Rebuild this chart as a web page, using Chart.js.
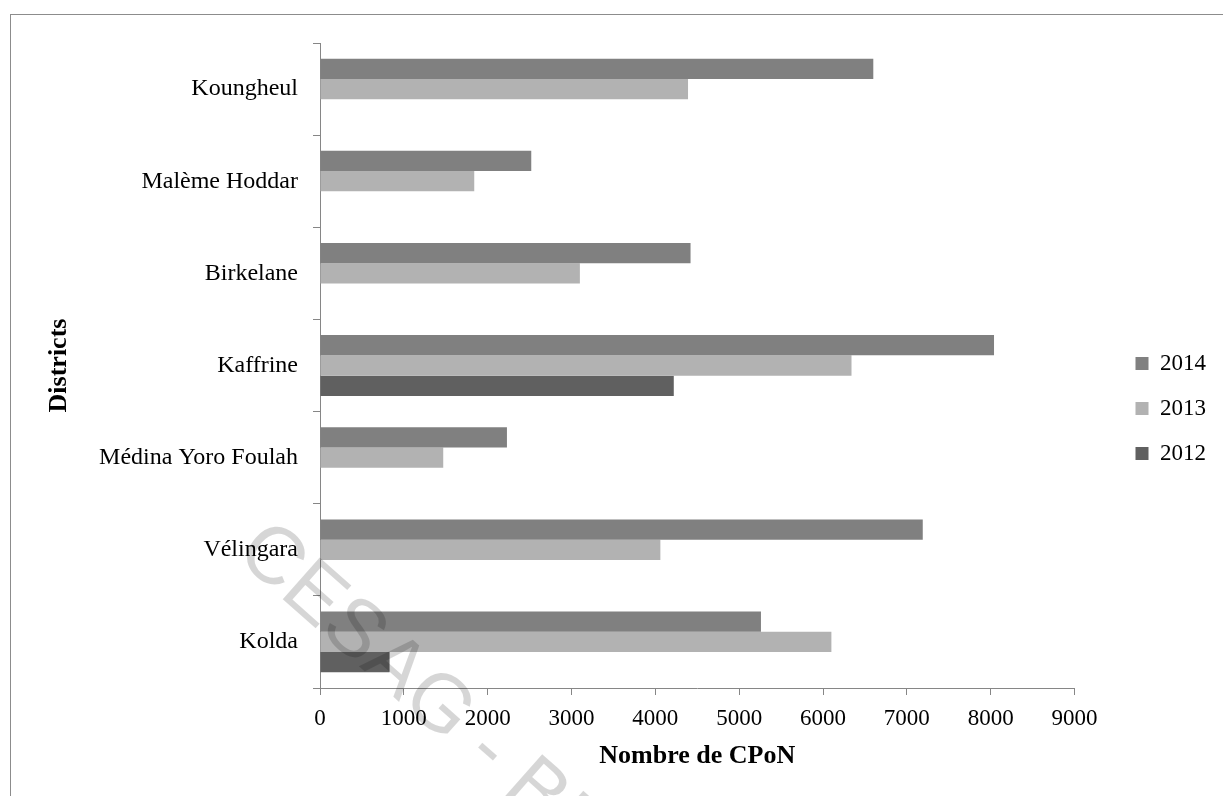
<!DOCTYPE html>
<html lang="fr">
<head>
<meta charset="utf-8">
<title>Nombre de CPoN par district</title>
<script src="https://cdn.jsdelivr.net/npm/chart.js@4.4.1/dist/chart.umd.min.js"></script>
<style>
  html, body { margin: 0; padding: 0; background: #fff; overflow: hidden; }
  #frame {
    position: absolute; left: 10px; top: 14px; width: 1300px; height: 900px;
    border: 1px solid #8c8c8c; box-sizing: border-box;
  }
  #chart { position: absolute; left: 0; top: 0; }
</style>
</head>
<body>
<div id="frame"></div>
<canvas id="chart" width="1223" height="796"></canvas>
<script>
// Districts, top to bottom
const districts = ['Koungheul', 'Malème Hoddar', 'Birkelane', 'Kaffrine', 'Médina Yoro Foulah', 'Vélingara', 'Kolda'];

// Number of postnatal consultations (CPoN) per year
const cpon2014 = [6600, 2520, 4420, 8040, 2230, 7190, 5260];
const cpon2013 = [4390, 1840, 3100, 6340, 1470, 4060, 6100];
const cpon2012 = [null, null, null, 4220, null, null, 830];

const seriesNames = ['2014', '2013', '2012'];
const xMin = 0, xMax = 9000, xStep = 1000;

const SERIF = "'Liberation Serif', 'Times New Roman', serif";
const AXIS_GREY = '#868686';

// Empty layout box that keeps the legend away from the plot area
const gutter = {
  id: 'gutter',
  beforeInit(chart) {
    const box = {
      position: 'right', weight: 10, fullSize: false,
      options: { stackWeight: 1 },
      left: 0, top: 0, right: 0, bottom: 0, width: 0, height: 0,
      isHorizontal() { return false; },
      update(maxWidth, maxHeight) { this.width = 39; this.height = maxHeight; },
      draw() {}
    };
    Chart.layouts.addBox(chart, box);
  }
};

// Diagonal library stamp over the page
const stamp = {
  id: 'stamp',
  afterDraw(chart) {
    const ctx = chart.ctx;
    ctx.save();
    ctx.translate(234, 556);
    ctx.rotate(41.5 * Math.PI / 180);
    ctx.font = "81px 'Liberation Sans', Arial, sans-serif";
    ctx.fillStyle = 'rgba(0,0,0,0.16)';
    ctx.textBaseline = 'alphabetic';
    ctx.fillText('CESAG - BIBLIOTHEQUE', 0, 0);
    ctx.restore();
  }
};

new Chart(document.getElementById('chart'), {
  type: 'bar',
  data: {
    labels: districts,
    datasets: [
      { label: seriesNames[0], data: cpon2014, backgroundColor: '#808080' },
      { label: seriesNames[1], data: cpon2013, backgroundColor: '#b2b2b2' },
      { label: seriesNames[2], data: cpon2012, backgroundColor: '#606060' }
    ]
  },
  options: {
    indexAxis: 'y',
    responsive: false,
    animation: false,
    devicePixelRatio: 1,
    categoryPercentage: 0.66,
    barPercentage: 1.0,
    layout: { padding: { top: 43, bottom: 22, left: 0, right: 7 } },
    plugins: {
      legend: {
        position: 'right',
        align: 'center',
        labels: {
          boxWidth: 13, boxHeight: 13, padding: 22,
          color: '#000',
          font: { family: SERIF, size: 23 }
        }
      },
      tooltip: { enabled: false },
      title: { display: false }
    },
    scales: {
      x: {
        type: 'linear',
        min: xMin, max: xMax,
        ticks: {
          stepSize: xStep, autoSkip: false, maxRotation: 0,
          color: '#000', padding: 10,
          font: { family: SERIF, size: 23 },
          callback: (value) => String(value)
        },
        grid: { drawOnChartArea: false, drawTicks: true, tickLength: 7, color: AXIS_GREY },
        border: { display: true, color: AXIS_GREY, width: 1 },
        title: {
          display: true, text: 'Nombre de CPoN', color: '#000',
          font: { family: SERIF, size: 26, weight: 'bold' },
          padding: { top: 0, bottom: 2 }
        },
        afterFit(scale) { scale.height = 86; }
      },
      y: {
        type: 'category',
        ticks: {
          color: '#000', padding: 15, autoSkip: false,
          font: { family: SERIF, size: 24 }
        },
        grid: { offset: true, drawOnChartArea: false, drawTicks: true, tickLength: 7, color: AXIS_GREY },
        border: { display: true, color: AXIS_GREY, width: 1 },
        title: {
          display: true, text: 'Districts', color: '#000',
          font: { family: SERIF, size: 26, weight: 'bold' },
          padding: { top: 44, bottom: 0 }
        },
        afterFit(scale) { scale.width = 320; }
      }
    }
  },
  plugins: [gutter, stamp]
});
</script>
</body>
</html>
